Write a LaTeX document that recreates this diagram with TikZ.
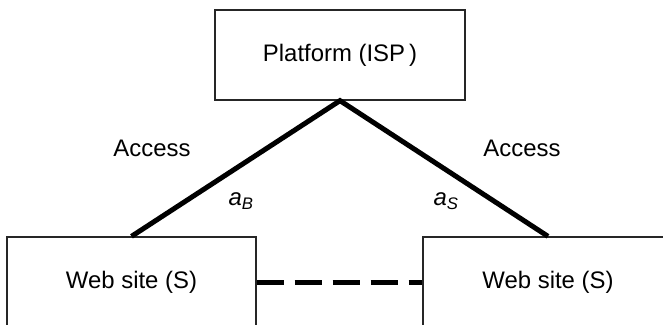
\documentclass[tikz,border=0pt]{standalone}
\usepackage{fontspec}
\setmainfont{Liberation Sans}
\begin{document}
\begin{tikzpicture}[x=1pt,y=-1pt,
  box/.style={draw=black!85,line width=1.3pt,minimum width=249pt,minimum height=90pt,inner sep=0pt,font=\fontsize{23.9}{28}\selectfont},
  lbl/.style={font=\fontsize{23.9}{28}\selectfont,inner sep=0pt},
  link/.style={line width=5pt,line join=miter},
  peer/.style={line width=5pt,dash pattern=on 27pt off 11pt}]
\useasboundingbox (0,0) rectangle (663,324);
\clip (0,0) rectangle (663,324);
\node[box,minimum width=250pt] (isp) at (340,55) {Platform (ISP\,)};
\node[box] (ws1) at (131.5,282) {Web site (S)};
\node[box,minimum width=250pt] (ws2) at (548,282) {Web site (S)};
\draw[link] (ws1.north) -- (isp.south) -- (ws2.north);
\draw[peer] (ws1.east) -- (ws2.west);
\node[lbl] (acc1) at (152,148) {Access};
\node[lbl] (acc2) at (522,148) {Access};
\node[lbl] (aB) at (241,201) {\itshape a\textsubscript{B}};
\node[lbl] (aS) at (446,201) {\itshape a\textsubscript{S}};
\end{tikzpicture}
\end{document}
